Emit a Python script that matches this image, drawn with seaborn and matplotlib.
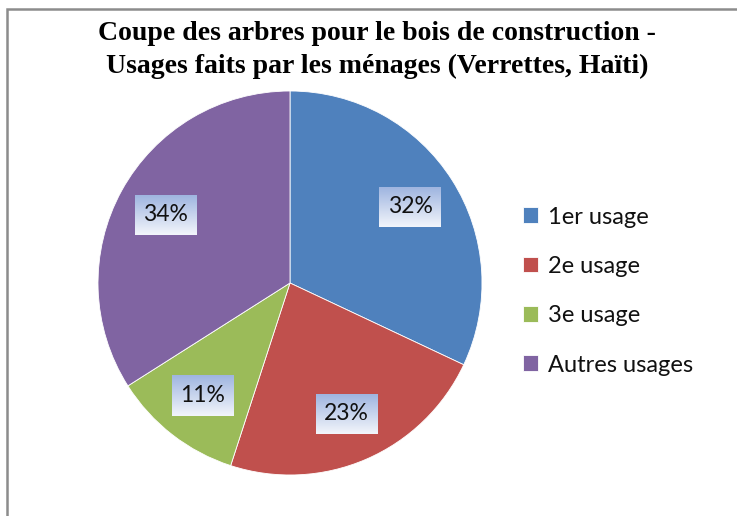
import numpy as np
import matplotlib
matplotlib.use("Agg")
import matplotlib.pyplot as plt
import seaborn as sns
from matplotlib.patches import Rectangle
from matplotlib.colors import LinearSegmentedColormap

# --- données ---
categories = ['1er usage', '2e usage', '3e usage', 'Autres usages']
parts = [32, 23, 11, 34]
couleurs = ['#4F81BD', '#C0504D', '#9BBB59', '#8064A2']
titre = "Coupe des arbres pour le bois de construction -\nUsages faits par les ménages (Verrettes, Haïti)"

sns.set_theme(style="white")
plt.rcParams['font.family'] = ['Lato', 'DejaVu Sans']
plt.rcParams['text.color'] = 'black'

fig = plt.figure(figsize=(7.37, 5.16), dpi=100)
W, H = 737, 516
cx, cy, r = 290, 283, 192
ax = fig.add_axes([(cx - r) / W, (H - cy - r) / H, 2 * r / W, 2 * r / H])

wedges, _, autotexts = ax.pie(
    parts, colors=couleurs, startangle=90, counterclock=False,
    autopct='%1.0f%%', pctdistance=0.74, radius=1,
    wedgeprops=dict(edgecolor='white', linewidth=0.6),
    textprops=dict(fontsize=16.5, color='#111111'))
for t in autotexts:
    t.set_zorder(5)

# boîtes en dégradé derrière les pourcentages
fig.canvas.draw()
inv = ax.transData.inverted()
grad = np.linspace(0, 1, 64).reshape(-1, 1)
cmap = LinearSegmentedColormap.from_list('lbl', ['#9fb5e0', '#f2f5fb'])
for t in autotexts:
    bb = t.get_window_extent()
    x0, y0 = inv.transform((bb.x0 - 2, bb.y0 - 6))
    x1, y1 = inv.transform((bb.x1 + 2, bb.y1 + 5))
    ax.imshow(grad, extent=[x0, x1, y0, y1], cmap=cmap, aspect='auto',
              origin='upper', zorder=4)
ax.set_xlim(-1, 1)
ax.set_ylim(-1, 1)
ax.set_aspect('equal')
ax.axis('off')

fig.text(0.512, 0.903, titre, ha='center', va='center', fontsize=20,
         fontweight='bold', family='Liberation Serif', linespacing=1.38,
         color='black')

fig.legend(wedges, categories, loc='center left',
           bbox_to_anchor=(0.681, 0.436), frameon=False, fontsize=17,
           handlelength=0.65, handleheight=0.65, handletextpad=0.4,
           labelspacing=1.2, labelcolor='#111111')

# cadre gris
fig.patches.append(Rectangle((7 / W, -0.1), 1.2, 1 - 9 / H + 0.1,
                             transform=fig.transFigure, fill=False,
                             edgecolor='#8c8c8c', linewidth=1.8))

fig.savefig('out.png', dpi=100)
